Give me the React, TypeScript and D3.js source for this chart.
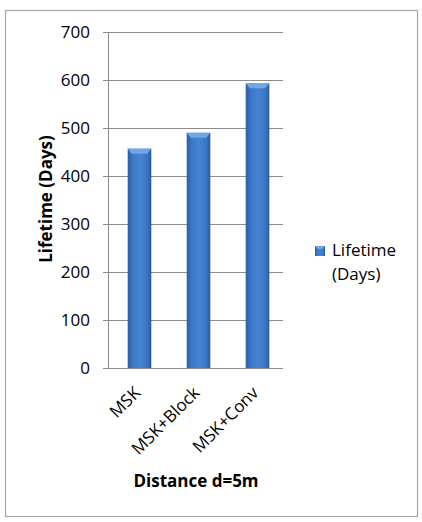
import { useEffect, useRef } from "react";
import * as d3 from "d3";

const categories = ["MSK", "MSK+Block", "MSK+Conv"];
const lifetimeValues = [457, 490, 593];
const yTicks = [0, 100, 200, 300, 400, 500, 600, 700];
const seriesName = ["Lifetime", "(Days)"];

const W = 422;
const H = 522;
const FONT = "'Open Sans', sans-serif";

export default function App() {
  const svgRef = useRef<SVGSVGElement>(null);

  useEffect(() => {
    if (!svgRef.current) return;
    const svg = d3.select(svgRef.current);
    svg.selectAll("*").remove();

    const left = 108;
    const right = 283;
    const top = 32;
    const bottom = 368;

    const x = d3.scaleBand().domain(categories).range([left + 2, right + 4]).paddingInner(0.6).paddingOuter(0.3);
    const y = d3.scaleLinear().domain([0, 700]).range([bottom, top]);

    const defs = svg.append("defs");
    const grad = defs.append("linearGradient").attr("id", "barGrad").attr("x1", "0").attr("x2", "1").attr("y1", "0").attr("y2", "0");
    grad.append("stop").attr("offset", "0%").attr("stop-color", "#2c5fa6");
    grad.append("stop").attr("offset", "25%").attr("stop-color", "#3d7ac8");
    grad.append("stop").attr("offset", "55%").attr("stop-color", "#4585d3");
    grad.append("stop").attr("offset", "85%").attr("stop-color", "#3a73bf");
    grad.append("stop").attr("offset", "100%").attr("stop-color", "#2a5699");

    // background + frame
    svg.append("rect").attr("width", W).attr("height", H).attr("fill", "#fff");
    svg.append("rect").attr("x", 5.5).attr("y", 10.5).attr("width", 412).attr("height", 506)
      .attr("fill", "#fff").attr("stroke", "#a6a6a6").attr("stroke-width", 1.2);

    // gridlines
    svg.append("g").selectAll("line").data(yTicks).enter().append("line")
      .attr("x1", left - 5).attr("x2", right)
      .attr("y1", (d) => Math.round(y(d)) + 0.5).attr("y2", (d) => Math.round(y(d)) + 0.5)
      .attr("stroke", "#8c8c8c").attr("stroke-width", 1);

    svg.append("line").attr("x1", left + 0.5).attr("x2", left + 0.5).attr("y1", top).attr("y2", bottom)
      .attr("stroke", "#8c8c8c");

    // tick labels
    svg.append("g").selectAll("text").data(yTicks).enter().append("text")
      .attr("x", 90).attr("y", (d) => y(d) + 6)
      .attr("text-anchor", "end").attr("font-family", FONT).attr("font-size", 17).attr("fill", "#000")
      .text((d) => d);

    // bars
    const bars = svg.append("g").selectAll("g").data(lifetimeValues).enter().append("g");
    bars.append("rect")
      .attr("x", (d, i) => x(categories[i])!)
      .attr("y", (d) => y(d))
      .attr("width", x.bandwidth())
      .attr("height", (d) => bottom - y(d))
      .attr("fill", "url(#barGrad)");
    bars.append("path")
      .attr("d", (d, i) => {
        const x0 = x(categories[i])!;
        const bw = x.bandwidth();
        const t = y(d);
        return `M${x0},${t} L${x0 + bw},${t} L${x0 + bw - 4},${t + 5} L${x0 + 4},${t + 5} Z`;
      })
      .attr("fill", "#6ea6e6");

    // x labels
    svg.append("g").selectAll("text").data(categories).enter().append("text")
      .attr("transform", (d) => `translate(${x(d)! + x.bandwidth() / 2 + 2},${bottom + 26}) rotate(-45)`)
      .attr("text-anchor", "end").attr("font-family", FONT).attr("font-size", 17).attr("fill", "#000")
      .text((d) => d);

    // axis titles
    svg.append("text").attr("transform", `translate(52,199) rotate(-90)`)
      .attr("text-anchor", "middle").attr("font-family", FONT).attr("font-size", 17).attr("font-weight", "bold")
      .text("Lifetime (Days)");
    svg.append("text").attr("x", 196).attr("y", 487)
      .attr("text-anchor", "middle").attr("font-family", FONT).attr("font-size", 17).attr("font-weight", "bold")
      .text("Distance d=5m");

    // legend
    svg.append("rect").attr("x", 315).attr("y", 246).attr("width", 10).attr("height", 10).attr("fill", "url(#barGrad)");
    svg.append("path").attr("d", "M315,246 L325,246 L322,249 L318,249 Z").attr("fill", "#6ea6e6");
    svg.append("g").selectAll("text").data(seriesName).enter().append("text")
      .attr("x", 332).attr("y", (d, i) => 256 + i * 24)
      .attr("font-family", FONT).attr("font-size", 17).attr("fill", "#000")
      .text((d) => d);
  }, []);

  return (
    <svg ref={svgRef} width={W} height={H} style={{ position: "absolute", left: 0, top: 0 }} />
  );
}
